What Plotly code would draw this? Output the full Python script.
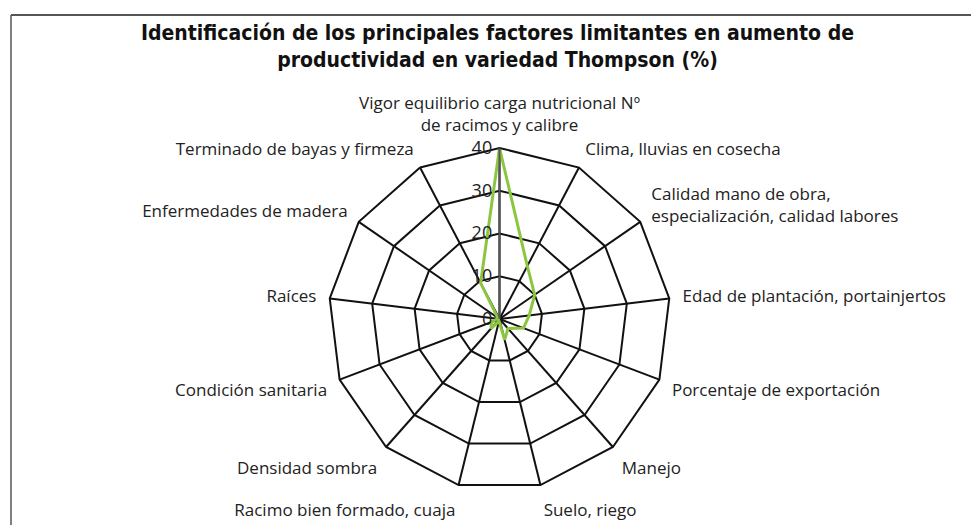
import plotly.graph_objects as go

categories = [
    "Vigor equilibrio carga nutricional Nº<br>de racimos y calibre",
    "Clima, lluvias en cosecha",
    "Calidad mano de obra,<br>especialización, calidad labores",
    "Edad de plantación, portainjertos",
    "Porcentaje de exportación",
    "Manejo",
    "Suelo, riego",
    "Racimo bien formado, cuaja",
    "Densidad sombra",
    "Condición sanitaria",
    "Raíces",
    "Enfermedades de madera",
    "Terminado de bayas y firmeza",
]
values = [40, 14, 10, 7, 6, 3, 5, 0.5, 3, 2, 0.5, 0.5, 9.5]
radial_ticks = [0, 10, 20, 30, 40]

title_text = ("Identificación de los principales factores limitantes en aumento de<br>"
              "productividad en variedad Thompson (%)")

W, H = 979, 525
cx, cy, R = 491.5, 311, 171

fig = go.Figure()
fig.add_trace(go.Scatterpolar(
    r=values + values[:1],
    theta=categories + categories[:1],
    mode="lines",
    line=dict(color="#8cc63f", width=3),
    showlegend=False,
    hoverinfo="skip",
))

fig.update_layout(
    width=W, height=H,
    margin=dict(l=0, r=0, t=0, b=0),
    paper_bgcolor="white",
    plot_bgcolor="white",
    font=dict(family="'Open Sans', 'Noto Sans', sans-serif", size=18, color="#222"),
    title=dict(text="<b>" + title_text + "</b>", x=0.5, xanchor="center",
               y=1 - 32 / H, yanchor="top", pad=dict(t=0, b=0),
               font=dict(family="'DejaVu Sans Condensed', 'Roboto', sans-serif", size=21, color="#111")),
    polar=dict(
        domain=dict(x=[(cx - R) / W, (cx + R) / W], y=[1 - (cy + R) / H, 1 - (cy - R) / H]),
        gridshape="linear",
        bgcolor="white",
        angularaxis=dict(
            direction="clockwise", rotation=90,
            showline=True, linecolor="#111", linewidth=2,
            showgrid=True, gridcolor="#111", gridwidth=2,
            ticks="outside", ticklen=9, tickcolor="rgba(0,0,0,0)",
            tickfont=dict(size=17, color="#222"),
        ),
        radialaxis=dict(
            range=[0, 40], tickvals=radial_ticks, ticktext=[str(t) for t in radial_ticks],
            showline=True, linecolor="#555", linewidth=2,
            showgrid=True, gridcolor="#111", gridwidth=2,
            angle=90, tickangle=90, ticks="", tickfont=dict(size=18, color="#222"),
            side="counterclockwise",
        ),
    ),
    shapes=[
        dict(type="line", xref="paper", yref="paper", x0=3 / W, x1=1, y0=1 - 7 / H, y1=1 - 7 / H,
             line=dict(color="#555", width=2)),
        dict(type="line", xref="paper", yref="paper", x0=3 / W, x1=3 / W, y0=0, y1=1 - 7 / H,
             line=dict(color="#555", width=1.5)),
    ],
)

fig.write_html("out.html")
